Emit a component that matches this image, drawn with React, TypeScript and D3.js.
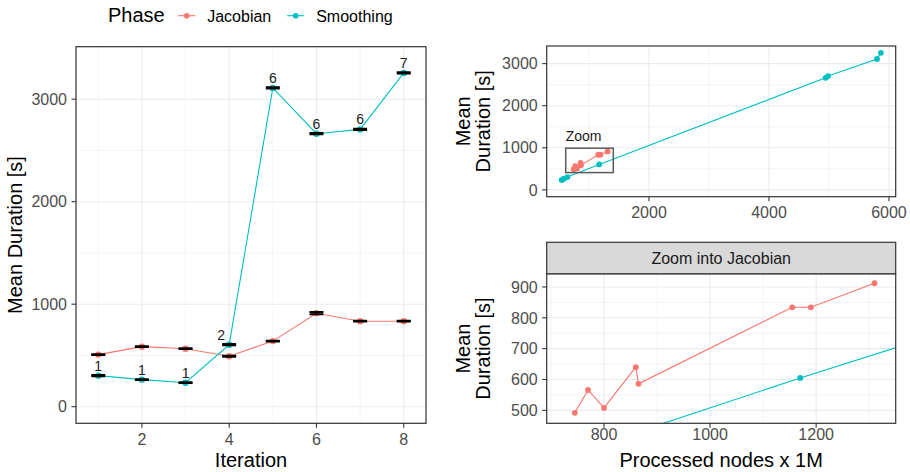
import React from "react";
import * as d3 from "d3";

// ---------- data ----------
const iterations = [1, 2, 3, 4, 5, 6, 7, 8];
const jacobianMean = [508, 586, 566, 492, 640, 912, 834, 834];
const smoothingMean = [303, 264, 234, 605, 3110, 2663, 2705, 3256];
const jacobianSd = [4, 4, 4, 4, 4, 11, 4, 4];
const smoothingSd = [5, 4, 4, 6, 6, 6, 6, 6];
const smoothingCount = [1, 1, 1, 2, 6, 6, 6, 7];
const jacobianNodes = [800, 865, 770, 745, 860, 1310, 1155, 1190];
const smoothingNodes = [640, 580, 545, 1170, 5800, 4945, 4985, 5865];
const zoomBox = { xmin: 612, xmax: 1405, ymin: 410, ymax: 990 };

const leftXTicks = [2, 4, 6, 8];
const leftXMinor = [1, 3, 5, 7];
const leftYTicks = [0, 1000, 2000, 3000];
const leftYMinor = [500, 1500, 2500];
const trXTicks = [2000, 4000, 6000];
const trXMinor = [1000, 3000, 5000];
const trYTicks = [0, 1000, 2000, 3000];
const trYMinor = [500, 1500, 2500];
const brXTicks = [800, 1000, 1200];
const brXMinor = [700, 900, 1100, 1300];
const brYTicks = [500, 600, 700, 800, 900];
const brYMinor = [550, 650, 750, 850];

const phases = ["Jacobian", "Smoothing"];
const labelNudgeX = [0, 0, 0, -8, 0, 0, 0, 0];

// ---------- style ----------
const RED = "#F8766D";
const TEAL = "#00BFC4";
const FONT = "'Liberation Sans', Arial, Helvetica, sans-serif";
const GRID = "#EBEBEB";
const BORDER = "#333333";
const TICKTXT = "#4D4D4D";

type Pt = { x: number; y: number };

function Panel(props: {
  x: d3.ScaleLinear<number, number>;
  y: d3.ScaleLinear<number, number>;
  xTicks: number[];
  xMinor: number[];
  yTicks: number[];
  yMinor: number[];
  id: string;
  xLabelBaseline: number;
  children?: React.ReactNode;
}) {
  const { x, y, xTicks, xMinor, yTicks, yMinor, id } = props;
  const [x0, x1] = x.range();
  const [y0, y1] = y.range(); // y0 bottom, y1 top
  return (
    <g>
      <defs>
        <clipPath id={id}>
          <rect x={x0} y={y1} width={x1 - x0} height={y0 - y1} />
        </clipPath>
      </defs>
      <rect x={x0} y={y1} width={x1 - x0} height={y0 - y1} fill="white" />
      {xMinor.map((t) => (
        <line key={"xm" + t} x1={x(t)} x2={x(t)} y1={y0} y2={y1} stroke={GRID} strokeWidth={0.55} />
      ))}
      {yMinor.map((t) => (
        <line key={"ym" + t} x1={x0} x2={x1} y1={y(t)} y2={y(t)} stroke={GRID} strokeWidth={0.55} />
      ))}
      {xTicks.map((t) => (
        <line key={"xM" + t} x1={x(t)} x2={x(t)} y1={y0} y2={y1} stroke={GRID} strokeWidth={1.1} />
      ))}
      {yTicks.map((t) => (
        <line key={"yM" + t} x1={x0} x2={x1} y1={y(t)} y2={y(t)} stroke={GRID} strokeWidth={1.1} />
      ))}
      <g clipPath={`url(#${id})`}>{props.children}</g>
      <rect x={x0} y={y1} width={x1 - x0} height={y0 - y1} fill="none" stroke={BORDER} strokeWidth={1.2} />
      {xTicks.map((t) => (
        <g key={"xt" + t}>
          <line x1={x(t)} x2={x(t)} y1={y0} y2={y0 + 4.5} stroke={BORDER} strokeWidth={1.1} />
          <text x={x(t)} y={props.xLabelBaseline} textAnchor="middle" fontSize={16} fill={TICKTXT} fontFamily={FONT}>
            {t}
          </text>
        </g>
      ))}
      {yTicks.map((t) => (
        <g key={"yt" + t}>
          <line x1={x0 - 4.5} x2={x0} y1={y(t)} y2={y(t)} stroke={BORDER} strokeWidth={1.1} />
          <text x={x0 - 9} y={y(t) + 5.7} textAnchor="end" fontSize={16} fill={TICKTXT} fontFamily={FONT}>
            {t}
          </text>
        </g>
      ))}
    </g>
  );
}

function sortedPts(xs: number[], ys: number[]): Pt[] {
  return xs.map((v, i) => ({ x: v, y: ys[i] })).sort((a, b) => a.x - b.x);
}

export default function App() {
  // left panel
  const lx = d3.scaleLinear().domain([0.49, 8.51]).range([76, 426]);
  const ly = d3.scaleLinear().domain([-162, 3512]).range([423.3, 46.7]);
  // top-right
  const tx = d3.scaleLinear().domain([295, 6112]).range([546.7, 895.7]);
  const ty = d3.scaleLinear().domain([-163, 3419]).range([196.7, 46]);
  // bottom-right
  const bx = d3.scaleLinear().domain([692, 1350]).range([546.7, 895.7]);
  const by = d3.scaleLinear().domain([458, 942]).range([423.3, 274]);

  const leftLine = d3
    .line<number>()
    .x((_, i) => lx(iterations[i]))
    .y((d) => ly(d));

  const jacSorted = sortedPts(jacobianNodes, jacobianMean);
  const smoSorted = sortedPts(smoothingNodes, smoothingMean);
  const trLine = d3.line<Pt>().x((d) => tx(d.x)).y((d) => ty(d.y));
  const brLine = d3.line<Pt>().x((d) => bx(d.x)).y((d) => by(d.y));

  const ebHalf = 0.16;
  const errorbars = (means: number[], sds: number[], key: string) =>
    means.map((m, i) => {
      const xa = lx(iterations[i] - ebHalf);
      const xb = lx(iterations[i] + ebHalf);
      const yt = ly(m + sds[i]);
      const yb = ly(m - sds[i]);
      const xc = lx(iterations[i]);
      return (
        <g key={key + i} stroke="black" strokeWidth={2}>
          <line x1={xa} x2={xb} y1={yt} y2={yt} />
          <line x1={xa} x2={xb} y1={yb} y2={yb} />
          <line x1={xc} x2={xc} y1={yt} y2={yb} />
        </g>
      );
    });

  return (
    <svg
      width={910}
      height={472}
      style={{ position: "absolute", left: 0, top: 0, background: "white" }}
      fontFamily={FONT}
    >
      <rect width={910} height={472} fill="white" />

      {/* legend */}
      <text x={108} y={22.3} fontSize={20} fill="black">Phase</text>
      {phases.map((p, i) => {
        const cx = i === 0 ? 186.7 : 295.7;
        const col = i === 0 ? RED : TEAL;
        return (
          <g key={p}>
            <line x1={cx - 8.5} x2={cx + 8.5} y1={15.7} y2={15.7} stroke={col} strokeWidth={1.1} />
            <circle cx={cx} cy={15.7} r={2.8} fill={col} />
            <text x={cx + 20.5} y={21.5} fontSize={16} fill="black">{p}</text>
          </g>
        );
      })}

      {/* left panel */}
      <Panel x={lx} y={ly} xTicks={leftXTicks} xMinor={leftXMinor} yTicks={leftYTicks} yMinor={leftYMinor} id="clipL" xLabelBaseline={445}>
        <path d={leftLine(jacobianMean) || ""} fill="none" stroke={RED} strokeWidth={1.1} />
        <path d={leftLine(smoothingMean) || ""} fill="none" stroke={TEAL} strokeWidth={1.1} />
        {jacobianMean.map((m, i) => (
          <circle key={"jp" + i} cx={lx(iterations[i])} cy={ly(m)} r={3.2} fill={RED} />
        ))}
        {smoothingMean.map((m, i) => (
          <circle key={"sp" + i} cx={lx(iterations[i])} cy={ly(m)} r={3.2} fill={TEAL} />
        ))}
        {errorbars(jacobianMean, jacobianSd, "je")}
        {errorbars(smoothingMean, smoothingSd, "se")}
        {smoothingMean.map((m, i) => (
          <text
            key={"lab" + i}
            x={lx(iterations[i]) + labelNudgeX[i]}
            y={ly(m) - 5}
            textAnchor="middle"
            fontSize={14}
            fill="#1a1a1a"
          >
            {smoothingCount[i]}
          </text>
        ))}
      </Panel>
      <text x={lx(4.5)} y={467} textAnchor="middle" fontSize={20} fill="black">Iteration</text>
      <text transform={`translate(22,235) rotate(-90)`} textAnchor="middle" fontSize={20} fill="black">
        Mean Duration [s]
      </text>

      {/* top-right panel */}
      <Panel x={tx} y={ty} xTicks={trXTicks} xMinor={trXMinor} yTicks={trYTicks} yMinor={trYMinor} id="clipTR" xLabelBaseline={217.5}>
        <path d={trLine(smoSorted) || ""} fill="none" stroke={TEAL} strokeWidth={1.1} />
        <path d={trLine(jacSorted) || ""} fill="none" stroke={RED} strokeWidth={1.1} />
        {jacSorted.map((d, i) => (
          <circle key={"tj" + i} cx={tx(d.x)} cy={ty(d.y)} r={2.9} fill={RED} />
        ))}
        {smoSorted.map((d, i) => (
          <circle key={"ts" + i} cx={tx(d.x)} cy={ty(d.y)} r={2.9} fill={TEAL} />
        ))}
        <rect
          x={tx(zoomBox.xmin)}
          y={ty(zoomBox.ymax)}
          width={tx(zoomBox.xmax) - tx(zoomBox.xmin)}
          height={ty(zoomBox.ymin) - ty(zoomBox.ymax)}
          fill="none"
          stroke="#595959"
          strokeWidth={1.5}
        />
        <text x={tx(zoomBox.xmin)} y={ty(zoomBox.ymax) - 7} fontSize={14} fill="#1a1a1a">Zoom</text>
      </Panel>
      <text transform={`translate(469.5,121.3) rotate(-90)`} textAnchor="middle" fontSize={20} fill="black">Mean</text>
      <text transform={`translate(490,121.3) rotate(-90)`} textAnchor="middle" fontSize={20} fill="black">Duration [s]</text>

      {/* bottom-right strip */}
      <rect x={546.7} y={242.3} width={349} height={31.7} fill="#D9D9D9" stroke={BORDER} strokeWidth={1.2} />
      <text x={(546.7 + 895.7) / 2} y={264} textAnchor="middle" fontSize={16} fill="#1a1a1a">Zoom into Jacobian</text>

      {/* bottom-right panel */}
      <Panel x={bx} y={by} xTicks={brXTicks} xMinor={brXMinor} yTicks={brYTicks} yMinor={brYMinor} id="clipBR" xLabelBaseline={440}>
        <path d={brLine(smoSorted) || ""} fill="none" stroke={TEAL} strokeWidth={1.1} />
        <path d={brLine(jacSorted) || ""} fill="none" stroke={RED} strokeWidth={1.1} />
        {jacSorted.map((d, i) => (
          <circle key={"bj" + i} cx={bx(d.x)} cy={by(d.y)} r={2.9} fill={RED} />
        ))}
        {smoSorted.map((d, i) => (
          <circle key={"bs" + i} cx={bx(d.x)} cy={by(d.y)} r={2.9} fill={TEAL} />
        ))}
      </Panel>
      <text transform={`translate(469.5,348.6) rotate(-90)`} textAnchor="middle" fontSize={20} fill="black">Mean</text>
      <text transform={`translate(490,348.6) rotate(-90)`} textAnchor="middle" fontSize={20} fill="black">Duration [s]</text>
      <text x={(546.7 + 895.7) / 2} y={467} textAnchor="middle" fontSize={20} fill="black">Processed nodes x 1M</text>
    </svg>
  );
}
